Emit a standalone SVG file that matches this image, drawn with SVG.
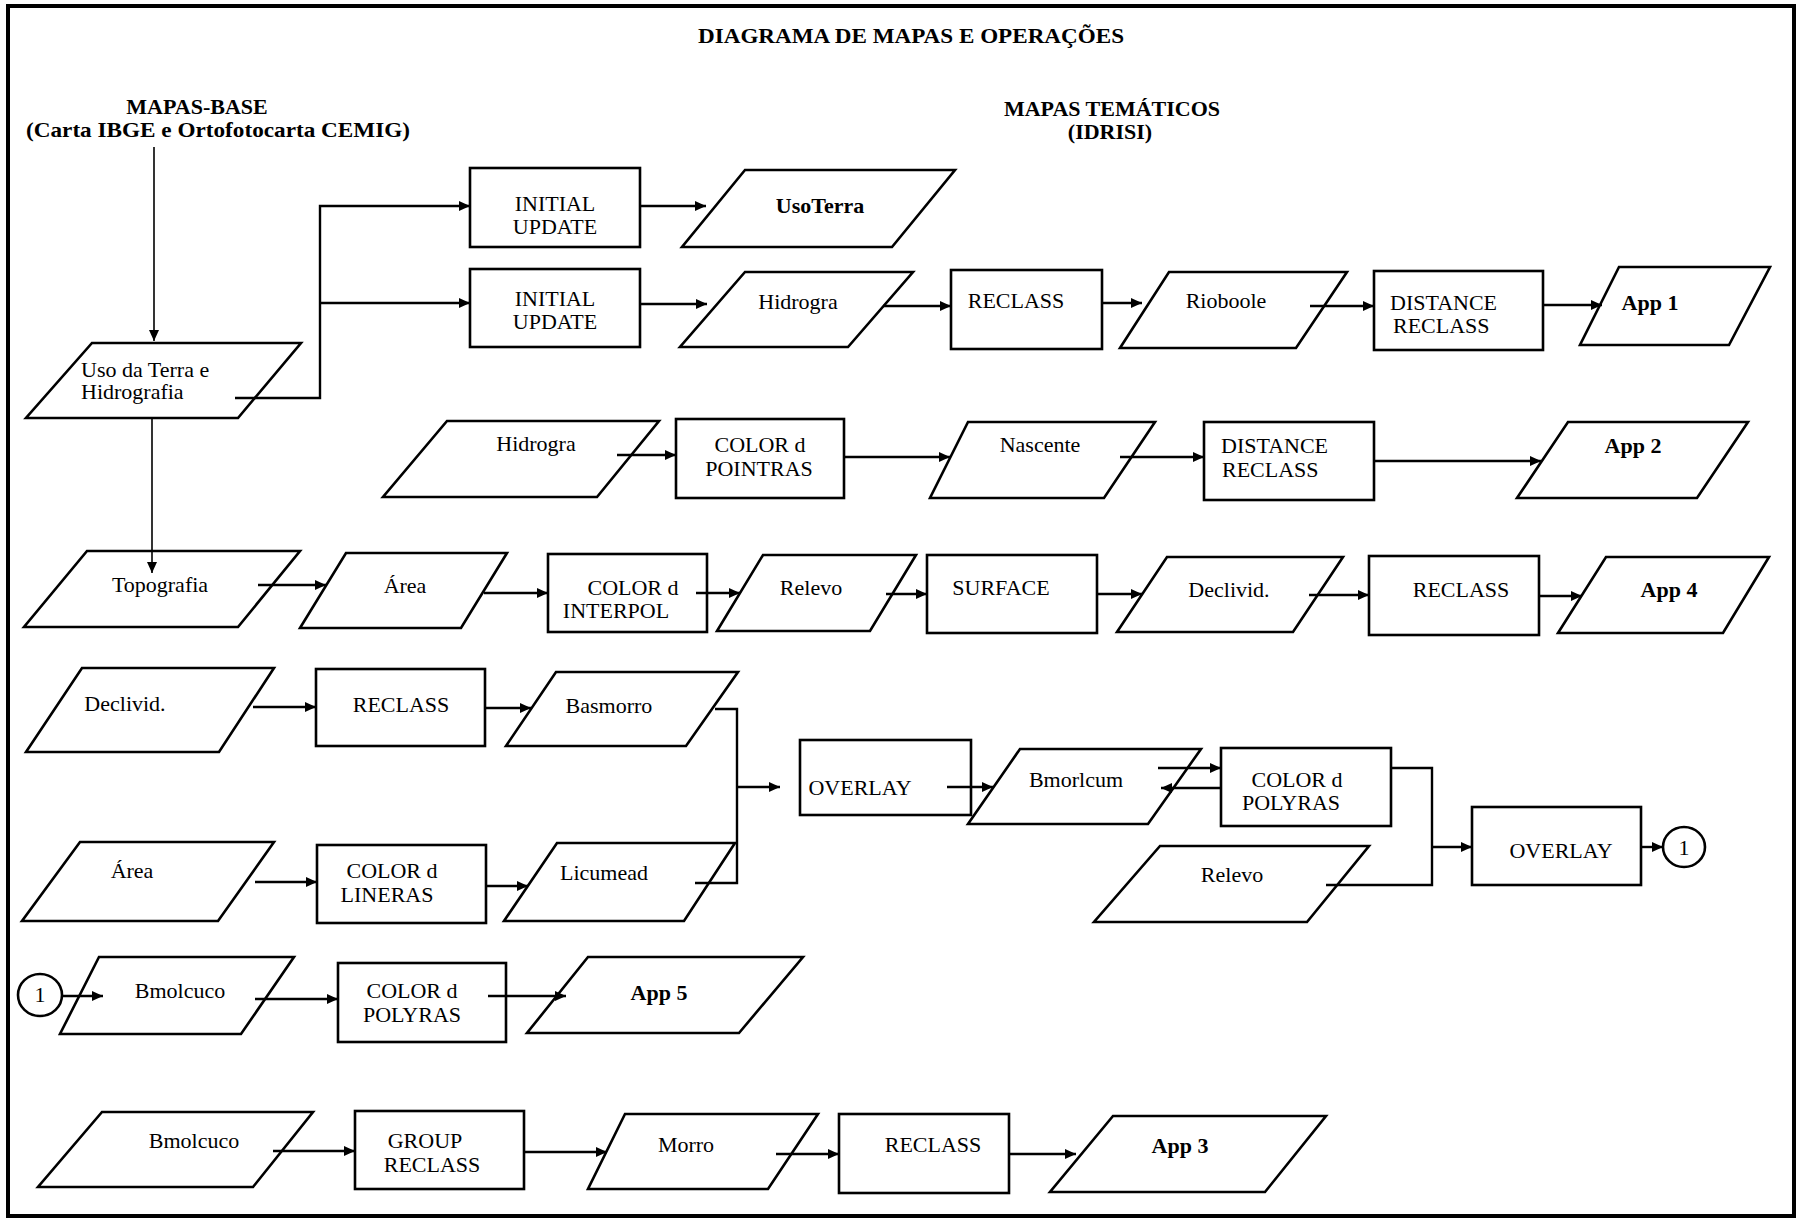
<svg xmlns="http://www.w3.org/2000/svg" width="1798" height="1218" viewBox="0 0 1798 1218">
<style>
.n{fill:#fff;stroke:#000;stroke-width:2.6;stroke-linejoin:miter}
.t{font-family:"Liberation Serif","Times New Roman",serif;font-size:22px;fill:#000;text-anchor:middle}
.l{text-anchor:start}
.b{font-weight:bold}
.c{fill:none;stroke:#000;stroke-width:2.4}
.thin{stroke-width:1.6}
</style>
<defs>
<marker id="ah" markerUnits="userSpaceOnUse" markerWidth="11" markerHeight="10" refX="11" refY="5" orient="auto">
<path d="M0,0 L11,5 L0,10 z" fill="#000"/>
</marker>
</defs>
<rect x="0" y="0" width="1798" height="1218" fill="#fff"/>
<rect x="8" y="6" width="1786" height="1210" fill="none" stroke="#000" stroke-width="4"/>

<g id="titles">
<text class="t b" x="911" y="43" font-size="20" textLength="426" lengthAdjust="spacingAndGlyphs">DIAGRAMA DE MAPAS E OPERAÇÕES</text>
<text class="t b" x="197" y="114">MAPAS-BASE</text>
<text class="t b" x="218" y="137" textLength="384" lengthAdjust="spacingAndGlyphs">(Carta IBGE e Ortofotocarta CEMIG)</text>
<text class="t b" x="1112" y="116">MAPAS TEMÁTICOS</text>
<text class="t b" x="1110" y="139">(IDRISI)</text>
</g>

<g id="n-usodaterra"><polygon class="n" points="92,343 301,343 238,418 26,418"/><text class="t l" x="81" y="377">Uso da Terra e</text><text class="t l" x="81" y="399">Hidrografia</text></g>
<g id="n-iu1"><rect class="n" x="470" y="168" width="170" height="79"/><text class="t" x="555" y="211">INITIAL</text><text class="t" x="555" y="234">UPDATE</text></g>
<g id="n-usoterra"><polygon class="n" points="745,170 955,170 892,247 682,247"/><text class="t b" x="820" y="213">UsoTerra</text></g>
<g id="n-iu2"><rect class="n" x="470" y="269" width="170" height="78"/><text class="t" x="555" y="306">INITIAL</text><text class="t" x="555" y="329">UPDATE</text></g>
<g id="n-hidrogra1"><polygon class="n" points="745,272 913,272 848,347 680,347"/><text class="t" x="798" y="309">Hidrogra</text></g>
<g id="n-reclass1"><rect class="n" x="951" y="270" width="151" height="79"/><text class="t" x="1016" y="308">RECLASS</text></g>
<g id="n-rioboole"><polygon class="n" points="1169,272 1347,272 1296,348 1120,348"/><text class="t" x="1226" y="308">Rioboole</text></g>
<g id="n-dist1"><rect class="n" x="1374" y="271" width="169" height="79"/><text class="t l" x="1390" y="310">DISTANCE</text><text class="t l" x="1393" y="333">RECLASS</text></g>
<g id="n-app1"><polygon class="n" points="1619,267 1770,267 1729,345 1580,345"/><text class="t b" x="1650" y="310">App 1</text></g>

<g id="n-hidrogra2"><polygon class="n" points="447,421 659,421 597,497 383,497"/><text class="t" x="536" y="451">Hidrogra</text></g>
<g id="n-pointras"><rect class="n" x="676" y="419" width="168" height="79"/><text class="t" x="760" y="452">COLOR d</text><text class="t" x="759" y="476">POINTRAS</text></g>
<g id="n-nascente"><polygon class="n" points="968,422 1155,422 1104,498 930,498"/><text class="t" x="1040" y="452">Nascente</text></g>
<g id="n-dist2"><rect class="n" x="1204" y="422" width="170" height="78"/><text class="t l" x="1221" y="453">DISTANCE</text><text class="t l" x="1222" y="477">RECLASS</text></g>
<g id="n-app2"><polygon class="n" points="1568,422 1748,422 1697,498 1517,498"/><text class="t b" x="1633" y="453">App 2</text></g>

<g id="n-topografia"><polygon class="n" points="87,551 300,551 238,627 24,627"/><text class="t" x="160" y="592">Topografia</text></g>
<g id="n-area1"><polygon class="n" points="346,553 507,553 461,628 300,628"/><text class="t" x="405" y="593">Área</text></g>
<g id="n-interpol"><rect class="n" x="548" y="554" width="159" height="78"/><text class="t" x="633" y="595">COLOR d</text><text class="t" x="616" y="618">INTERPOL</text></g>
<g id="n-relevo1"><polygon class="n" points="763,555 916,555 870,631 717,631"/><text class="t" x="811" y="595">Relevo</text></g>
<g id="n-surface"><rect class="n" x="927" y="555" width="170" height="78"/><text class="t" x="1001" y="595">SURFACE</text></g>
<g id="n-declivid1"><polygon class="n" points="1167,557 1343,557 1293,632 1117,632"/><text class="t" x="1229" y="597">Declivid.</text></g>
<g id="n-reclass2"><rect class="n" x="1369" y="556" width="170" height="79"/><text class="t" x="1461" y="597">RECLASS</text></g>
<g id="n-app4"><polygon class="n" points="1606,557 1769,557 1723,633 1558,633"/><text class="t b" x="1669" y="597">App 4</text></g>

<g id="n-declivid2"><polygon class="n" points="82,668 274,668 219,752 26,752"/><text class="t" x="125" y="711">Declivid.</text></g>
<g id="n-reclass3"><rect class="n" x="316" y="669" width="169" height="77"/><text class="t" x="401" y="712">RECLASS</text></g>
<g id="n-basmorro"><polygon class="n" points="556,672 738,672 686,746 506,746"/><text class="t" x="609" y="713">Basmorro</text></g>
<g id="n-overlay1"><rect class="n" x="800" y="740" width="171" height="75"/><text class="t" x="860" y="795">OVERLAY</text></g>

<g id="n-area2"><polygon class="n" points="80,842 274,842 218,921 22,921"/><text class="t" x="132" y="878">Área</text></g>
<g id="n-lineras"><rect class="n" x="317" y="845" width="169" height="78"/><text class="t" x="392" y="878">COLOR d</text><text class="t" x="387" y="902">LINERAS</text></g>
<g id="n-licumead"><polygon class="n" points="557,843 735,843 684,921 504,921"/><text class="t" x="604" y="880">Licumead</text></g>

<g id="n-bmorlcum"><polygon class="n" points="1020,749 1201,749 1148,824 968,824"/><text class="t" x="1076" y="787">Bmorlcum</text></g>
<g id="n-polyras2"><rect class="n" x="1221" y="748" width="170" height="78"/><text class="t" x="1297" y="787">COLOR d</text><text class="t" x="1291" y="810">POLYRAS</text></g>
<g id="n-relevo2"><polygon class="n" points="1160,846 1369,846 1307,922 1094,922"/><text class="t" x="1232" y="882">Relevo</text></g>
<g id="n-overlay2"><rect class="n" x="1472" y="807" width="169" height="78"/><text class="t" x="1561" y="858">OVERLAY</text></g>
<g id="n-conn1a"><ellipse class="n" cx="1684" cy="847" rx="21" ry="20"/><text class="t" x="1684" y="855">1</text></g>

<g id="n-conn1b"><ellipse class="n" cx="40" cy="995" rx="22" ry="21"/><text class="t" x="40" y="1002">1</text></g>
<g id="n-bmolcuco1"><polygon class="n" points="99,957 294,957 241,1034 60,1034"/><text class="t" x="180" y="998">Bmolcuco</text></g>
<g id="n-polyras1"><rect class="n" x="338" y="963" width="168" height="79"/><text class="t" x="412" y="998">COLOR d</text><text class="t" x="412" y="1022">POLYRAS</text></g>
<g id="n-app5"><polygon class="n" points="588,957 803,957 739,1033 527,1033"/><text class="t b" x="659" y="1000">App 5</text></g>

<g id="n-bmolcuco2"><polygon class="n" points="102,1112 313,1112 253,1187 38,1187"/><text class="t" x="194" y="1148">Bmolcuco</text></g>
<g id="n-group"><rect class="n" x="355" y="1111" width="169" height="78"/><text class="t" x="425" y="1148">GROUP</text><text class="t" x="432" y="1172">RECLASS</text></g>
<g id="n-morro"><polygon class="n" points="625,1114 818,1114 768,1189 588,1189"/><text class="t" x="686" y="1152">Morro</text></g>
<g id="n-reclass4"><rect class="n" x="839" y="1114" width="170" height="79"/><text class="t" x="933" y="1152">RECLASS</text></g>
<g id="n-app3"><polygon class="n" points="1113,1116 1326,1116 1265,1192 1050,1192"/><text class="t b" x="1180" y="1153">App 3</text></g>

<g id="connectors">
<line class="c thin" x1="154" y1="147" x2="154" y2="341" marker-end="url(#ah)"/>
<polyline class="c" points="235,398 320,398 320,206 470,206" marker-end="url(#ah)"/>
<line class="c" x1="320" y1="303" x2="470" y2="303" marker-end="url(#ah)"/>
<line class="c" x1="640" y1="206" x2="706" y2="206" marker-end="url(#ah)"/>
<line class="c" x1="640" y1="304" x2="707" y2="304" marker-end="url(#ah)"/>
<line class="c" x1="883" y1="306" x2="951" y2="306" marker-end="url(#ah)"/>
<line class="c" x1="1102" y1="303" x2="1142" y2="303" marker-end="url(#ah)"/>
<line class="c" x1="1310" y1="306" x2="1374" y2="306" marker-end="url(#ah)"/>
<line class="c" x1="1543" y1="305" x2="1602" y2="305" marker-end="url(#ah)"/>
<line class="c" x1="617" y1="455" x2="676" y2="455" marker-end="url(#ah)"/>
<line class="c" x1="844" y1="457" x2="950" y2="457" marker-end="url(#ah)"/>
<line class="c" x1="1120" y1="457" x2="1204" y2="457" marker-end="url(#ah)"/>
<line class="c" x1="1374" y1="461" x2="1541" y2="461" marker-end="url(#ah)"/>
<line class="c thin" x1="152" y1="418" x2="152" y2="573" marker-end="url(#ah)"/>
<line class="c" x1="258" y1="585" x2="326" y2="585" marker-end="url(#ah)"/>
<line class="c" x1="484" y1="593" x2="548" y2="593" marker-end="url(#ah)"/>
<line class="c" x1="696" y1="593" x2="740" y2="593" marker-end="url(#ah)"/>
<line class="c" x1="886" y1="594" x2="927" y2="594" marker-end="url(#ah)"/>
<line class="c" x1="1097" y1="594" x2="1142" y2="594" marker-end="url(#ah)"/>
<line class="c" x1="1309" y1="595" x2="1369" y2="595" marker-end="url(#ah)"/>
<line class="c" x1="1539" y1="596" x2="1582" y2="596" marker-end="url(#ah)"/>
<line class="c" x1="253" y1="707" x2="316" y2="707" marker-end="url(#ah)"/>
<line class="c" x1="485" y1="708" x2="531" y2="708" marker-end="url(#ah)"/>
<polyline class="c" points="715,709 737,709 737,883 695,883"/>
<line class="c" x1="737" y1="787" x2="780" y2="787" marker-end="url(#ah)"/>
<line class="c" x1="255" y1="882" x2="317" y2="882" marker-end="url(#ah)"/>
<line class="c" x1="486" y1="886" x2="528" y2="886" marker-end="url(#ah)"/>
<line class="c" x1="947" y1="787" x2="993" y2="787" marker-end="url(#ah)"/>
<line class="c" x1="1158" y1="768" x2="1221" y2="768" marker-end="url(#ah)"/>
<line class="c" x1="1221" y1="788" x2="1161" y2="788" marker-end="url(#ah)"/>
<polyline class="c" points="1391,768 1432,768 1432,885 1326,885"/>
<line class="c" x1="1432" y1="847" x2="1472" y2="847" marker-end="url(#ah)"/>
<line class="c" x1="1641" y1="847" x2="1663" y2="847" marker-end="url(#ah)"/>
<line class="c" x1="62" y1="996" x2="103" y2="996" marker-end="url(#ah)"/>
<line class="c" x1="255" y1="999" x2="338" y2="999" marker-end="url(#ah)"/>
<line class="c" x1="488" y1="996" x2="566" y2="996" marker-end="url(#ah)"/>
<line class="c" x1="273" y1="1151" x2="355" y2="1151" marker-end="url(#ah)"/>
<line class="c" x1="524" y1="1152" x2="607" y2="1152" marker-end="url(#ah)"/>
<line class="c" x1="776" y1="1154" x2="839" y2="1154" marker-end="url(#ah)"/>
<line class="c" x1="1009" y1="1154" x2="1076" y2="1154" marker-end="url(#ah)"/>
</g>
</svg>
